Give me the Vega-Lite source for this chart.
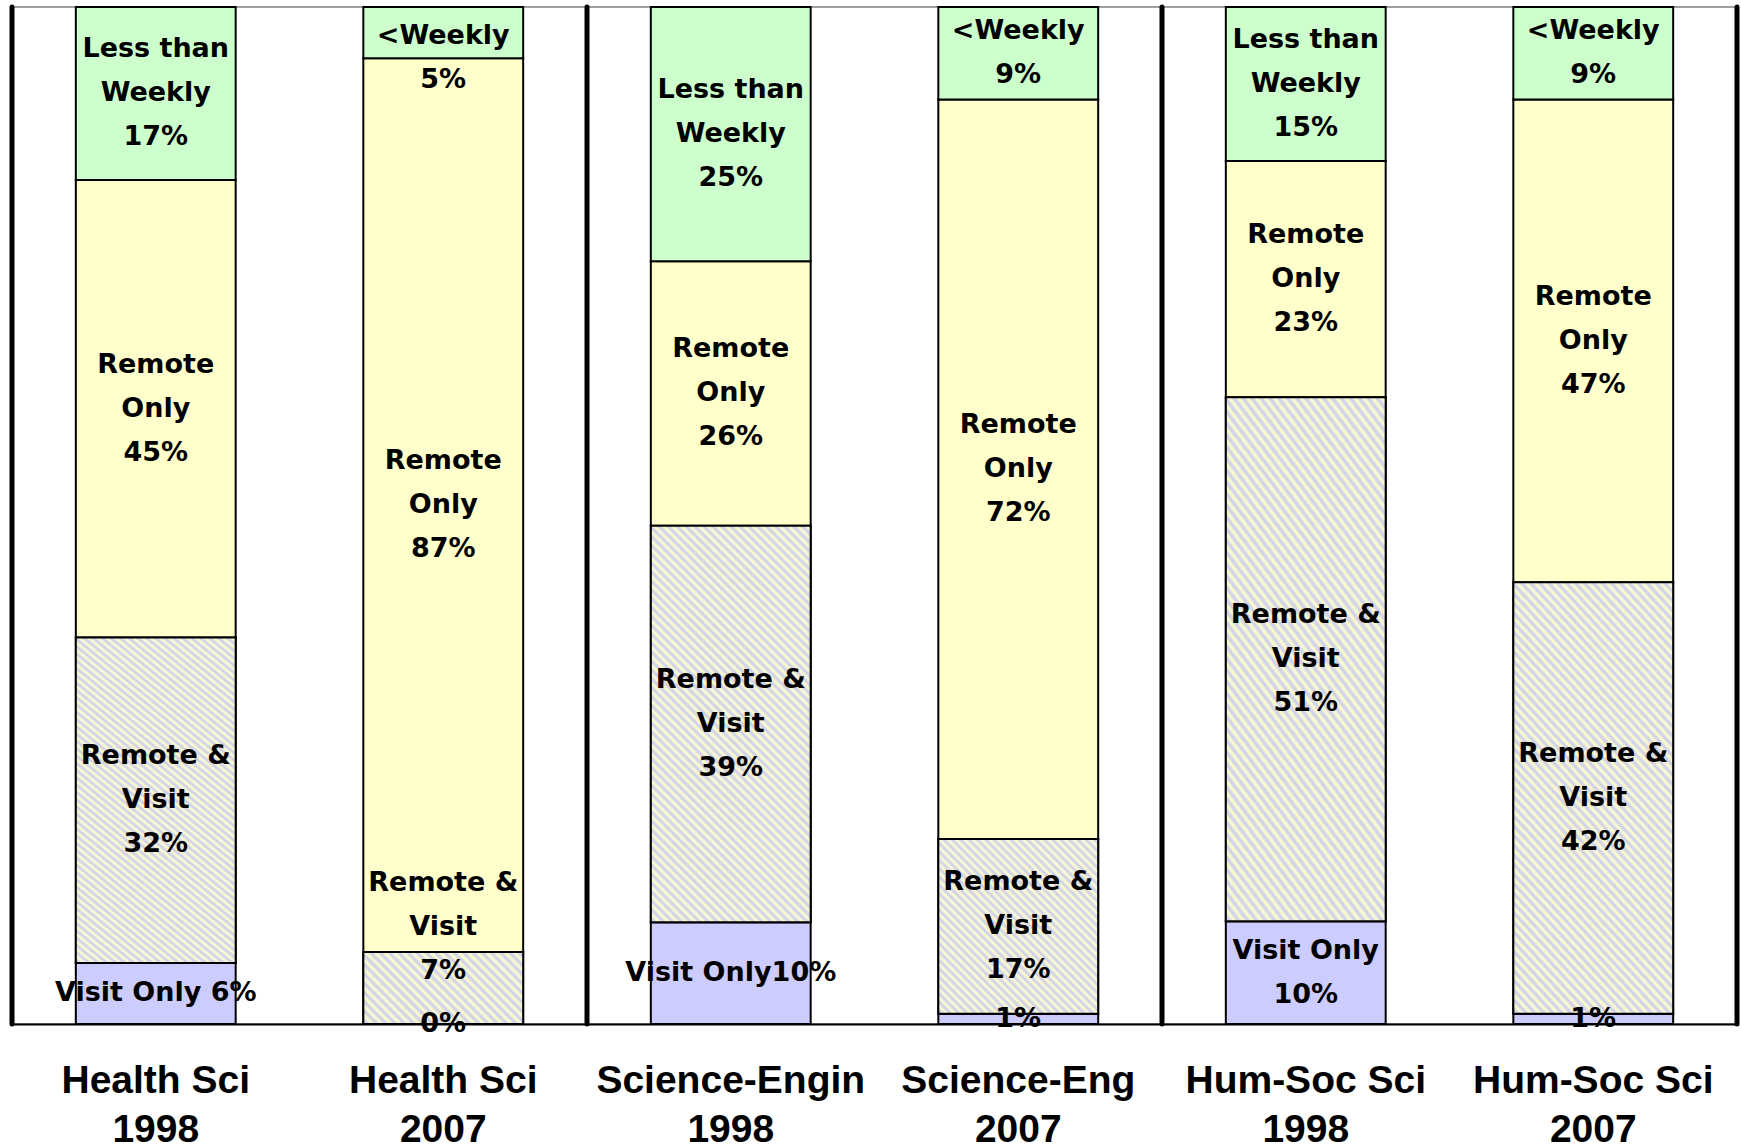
{
"$schema": "https://vega.github.io/schema/vega-lite/v6.json",
"width": 1725,
"height": 1017,
"autosize": "none",
"padding": {"left": 12, "top": 7, "right": 4, "bottom": 124},
"background": "white",
"config": {"view": {"stroke": "#808080", "strokeWidth": 1.5}},
"layer": [
{
"data": {"values": [
{"group": "Health Sci 1998", "cat": "Visit Only", "order": 1, "pct": 6, "label": ["Visit Only 6%"]},
{"group": "Health Sci 1998", "cat": "Remote & Visit", "order": 2, "pct": 32, "label": ["Remote &", "Visit", "32%"]},
{"group": "Health Sci 1998", "cat": "Remote Only", "order": 3, "pct": 45, "label": ["Remote", "Only", "45%"]},
{"group": "Health Sci 1998", "cat": "Less than Weekly", "order": 4, "pct": 17, "label": ["Less than", "Weekly", "17%"]},
{"group": "Health Sci 2007", "cat": "Visit Only", "order": 1, "pct": 0, "label": ["0%"]},
{"group": "Health Sci 2007", "cat": "Remote & Visit", "order": 2, "pct": 7, "label": ["Remote &", "Visit", "7%"]},
{"group": "Health Sci 2007", "cat": "Remote Only", "order": 3, "pct": 87, "label": ["Remote", "Only", "87%"]},
{"group": "Health Sci 2007", "cat": "Less than Weekly", "order": 4, "pct": 5, "label": ["<Weekly", "5%"]},
{"group": "Science-Engin 1998", "cat": "Visit Only", "order": 1, "pct": 10, "label": ["Visit Only10%"]},
{"group": "Science-Engin 1998", "cat": "Remote & Visit", "order": 2, "pct": 39, "label": ["Remote &", "Visit", "39%"]},
{"group": "Science-Engin 1998", "cat": "Remote Only", "order": 3, "pct": 26, "label": ["Remote", "Only", "26%"]},
{"group": "Science-Engin 1998", "cat": "Less than Weekly", "order": 4, "pct": 25, "label": ["Less than", "Weekly", "25%"]},
{"group": "Science-Eng 2007", "cat": "Visit Only", "order": 1, "pct": 1, "label": ["1%"]},
{"group": "Science-Eng 2007", "cat": "Remote & Visit", "order": 2, "pct": 17, "label": ["Remote &", "Visit", "17%"]},
{"group": "Science-Eng 2007", "cat": "Remote Only", "order": 3, "pct": 72, "label": ["Remote", "Only", "72%"]},
{"group": "Science-Eng 2007", "cat": "Less than Weekly", "order": 4, "pct": 9, "label": ["<Weekly", "9%"]},
{"group": "Hum-Soc Sci 1998", "cat": "Visit Only", "order": 1, "pct": 10, "label": ["Visit Only", "10%"]},
{"group": "Hum-Soc Sci 1998", "cat": "Remote & Visit", "order": 2, "pct": 51, "label": ["Remote &", "Visit", "51%"]},
{"group": "Hum-Soc Sci 1998", "cat": "Remote Only", "order": 3, "pct": 23, "label": ["Remote", "Only", "23%"]},
{"group": "Hum-Soc Sci 1998", "cat": "Less than Weekly", "order": 4, "pct": 15, "label": ["Less than", "Weekly", "15%"]},
{"group": "Hum-Soc Sci 2007", "cat": "Visit Only", "order": 1, "pct": 1, "label": ["1%"]},
{"group": "Hum-Soc Sci 2007", "cat": "Remote & Visit", "order": 2, "pct": 42, "label": ["Remote &", "Visit", "42%"]},
{"group": "Hum-Soc Sci 2007", "cat": "Remote Only", "order": 3, "pct": 47, "label": ["Remote", "Only", "47%"]},
{"group": "Hum-Soc Sci 2007", "cat": "Less than Weekly", "order": 4, "pct": 9, "label": ["<Weekly", "9%"]}
]},
"transform": [
{"stack": "pct", "groupby": ["group"], "sort": [{"field": "order", "order": "ascending"}], "offset": "normalize", "as": ["y0", "y1"]},
{"calculate": "(datum.y0 + datum.y1) / 2", "as": "mid"}
],
"encoding": {
"x": {"field": "group", "type": "nominal", "sort": null,
"scale": {"paddingInner": 0.444, "paddingOuter": 0.222},
"axis": {"title": null, "labelExpr": "[slice(datum.label, 0, -5), slice(datum.label, -4)]",
"labelFont": "Liberation Sans", "labelFontWeight": "bold", "labelFontSize": 39, "labelLineHeight": 49,
"labelColor": "black", "ticks": false, "labelPadding": 37, "domainColor": "black", "domainWidth": 2,
"labelAngle": 0, "labelOverlap": false, "labelLimit": 0}}
},
"layer": [
{
"mark": {"type": "bar", "stroke": "black", "strokeWidth": 2},
"encoding": {
"y": {"field": "y0", "type": "quantitative", "scale": {"domain": [0, 1], "nice": false, "zero": true}, "axis": null},
"y2": {"field": "y1"},
"fill": {"field": "cat", "type": "nominal",
"scale": {"domain": ["Visit Only", "Remote & Visit", "Remote Only", "Less than Weekly"], "range": ["#ccccff", "#ffffcc", "#ffffcc", "#ccffcc"]},
"legend": null}
}
},
{
"transform": [{"filter": "datum.cat === 'Remote & Visit'"}],
"mark": {"type": "bar", "stroke": "black", "strokeWidth": 2},
"encoding": {
"y": {"field": "y0", "type": "quantitative"},
"y2": {"field": "y1"},
"fill": {
"condition": [
{"test": "datum.group === 'Health Sci 2007'", "value": {"gradient": "linear", "x1": 0, "y1": 1, "x2": 1.2057, "y2": 0.4574, "stops": [
{"offset":0,"color":"#ffc"},{"offset":0.02,"color":"#cce"},{"offset":0.04,"color":"#ffc"},{"offset":0.06,"color":"#cce"},{"offset":0.08,"color":"#ffc"},{"offset":0.1,"color":"#cce"},{"offset":0.12,"color":"#ffc"},{"offset":0.14,"color":"#cce"},{"offset":0.16,"color":"#ffc"},{"offset":0.18,"color":"#cce"},{"offset":0.2,"color":"#ffc"},{"offset":0.22,"color":"#cce"},{"offset":0.24,"color":"#ffc"},{"offset":0.26,"color":"#cce"},{"offset":0.28,"color":"#ffc"},{"offset":0.3,"color":"#cce"},{"offset":0.32,"color":"#ffc"},{"offset":0.34,"color":"#cce"},{"offset":0.36,"color":"#ffc"},{"offset":0.38,"color":"#cce"},{"offset":0.4,"color":"#ffc"},{"offset":0.42,"color":"#cce"},{"offset":0.44,"color":"#ffc"},{"offset":0.46,"color":"#cce"},{"offset":0.48,"color":"#ffc"},{"offset":0.5,"color":"#cce"},{"offset":0.52,"color":"#ffc"},{"offset":0.54,"color":"#cce"},{"offset":0.56,"color":"#ffc"},{"offset":0.58,"color":"#cce"},{"offset":0.6,"color":"#ffc"},{"offset":0.62,"color":"#cce"},{"offset":0.64,"color":"#ffc"},{"offset":0.66,"color":"#cce"},{"offset":0.68,"color":"#ffc"},{"offset":0.7,"color":"#cce"},{"offset":0.72,"color":"#ffc"},{"offset":0.74,"color":"#cce"},{"offset":0.76,"color":"#ffc"},{"offset":0.78,"color":"#cce"},{"offset":0.8,"color":"#ffc"},{"offset":0.82,"color":"#cce"},{"offset":0.84,"color":"#ffc"},{"offset":0.86,"color":"#cce"},{"offset":0.88,"color":"#ffc"},{"offset":0.9,"color":"#cce"},{"offset":0.92,"color":"#ffc"},{"offset":0.94,"color":"#cce"},{"offset":0.96,"color":"#ffc"},{"offset":0.98,"color":"#cce"},{"offset":1,"color":"#ffc"}
]}},
{"test": "datum.group === 'Science-Eng 2007'", "value": {"gradient": "linear", "x1": 0, "y1": 1, "x2": 0.953, "y2": -0.0426, "stops": [
{"offset":0,"color":"#ffc"},{"offset":0.0125,"color":"#cce"},{"offset":0.025,"color":"#ffc"},{"offset":0.0375,"color":"#cce"},{"offset":0.05,"color":"#ffc"},{"offset":0.0625,"color":"#cce"},{"offset":0.075,"color":"#ffc"},{"offset":0.0875,"color":"#cce"},{"offset":0.1,"color":"#ffc"},{"offset":0.1125,"color":"#cce"},{"offset":0.125,"color":"#ffc"},{"offset":0.1375,"color":"#cce"},{"offset":0.15,"color":"#ffc"},{"offset":0.1625,"color":"#cce"},{"offset":0.175,"color":"#ffc"},{"offset":0.1875,"color":"#cce"},{"offset":0.2,"color":"#ffc"},{"offset":0.2125,"color":"#cce"},{"offset":0.225,"color":"#ffc"},{"offset":0.2375,"color":"#cce"},{"offset":0.25,"color":"#ffc"},{"offset":0.2625,"color":"#cce"},{"offset":0.275,"color":"#ffc"},{"offset":0.2875,"color":"#cce"},{"offset":0.3,"color":"#ffc"},{"offset":0.3125,"color":"#cce"},{"offset":0.325,"color":"#ffc"},{"offset":0.3375,"color":"#cce"},{"offset":0.35,"color":"#ffc"},{"offset":0.3625,"color":"#cce"},{"offset":0.375,"color":"#ffc"},{"offset":0.3875,"color":"#cce"},{"offset":0.4,"color":"#ffc"},{"offset":0.4125,"color":"#cce"},{"offset":0.425,"color":"#ffc"},{"offset":0.4375,"color":"#cce"},{"offset":0.45,"color":"#ffc"},{"offset":0.4625,"color":"#cce"},{"offset":0.475,"color":"#ffc"},{"offset":0.4875,"color":"#cce"},{"offset":0.5,"color":"#ffc"},{"offset":0.5125,"color":"#cce"},{"offset":0.525,"color":"#ffc"},{"offset":0.5375,"color":"#cce"},{"offset":0.55,"color":"#ffc"},{"offset":0.5625,"color":"#cce"},{"offset":0.575,"color":"#ffc"},{"offset":0.5875,"color":"#cce"},{"offset":0.6,"color":"#ffc"},{"offset":0.6125,"color":"#cce"},{"offset":0.625,"color":"#ffc"},{"offset":0.6375,"color":"#cce"},{"offset":0.65,"color":"#ffc"},{"offset":0.6625,"color":"#cce"},{"offset":0.675,"color":"#ffc"},{"offset":0.6875,"color":"#cce"},{"offset":0.7,"color":"#ffc"},{"offset":0.7125,"color":"#cce"},{"offset":0.725,"color":"#ffc"},{"offset":0.7375,"color":"#cce"},{"offset":0.75,"color":"#ffc"},{"offset":0.7625,"color":"#cce"},{"offset":0.775,"color":"#ffc"},{"offset":0.7875,"color":"#cce"},{"offset":0.8,"color":"#ffc"},{"offset":0.8125,"color":"#cce"},{"offset":0.825,"color":"#ffc"},{"offset":0.8375,"color":"#cce"},{"offset":0.85,"color":"#ffc"},{"offset":0.8625,"color":"#cce"},{"offset":0.875,"color":"#ffc"},{"offset":0.8875,"color":"#cce"},{"offset":0.9,"color":"#ffc"},{"offset":0.9125,"color":"#cce"},{"offset":0.925,"color":"#ffc"},{"offset":0.9375,"color":"#cce"},{"offset":0.95,"color":"#ffc"},{"offset":0.9625,"color":"#cce"},{"offset":0.975,"color":"#ffc"},{"offset":0.9875,"color":"#cce"},{"offset":1,"color":"#ffc"}
]}}
],
"value": {"gradient": "linear", "x1": 0, "y1": 1, "x2": 0.4828, "y2": -0.2069, "stops": [
{"offset":0,"color":"#ffc"},{"offset":0.008,"color":"#cce"},{"offset":0.016,"color":"#ffc"},{"offset":0.024,"color":"#cce"},{"offset":0.032,"color":"#ffc"},{"offset":0.04,"color":"#cce"},{"offset":0.048,"color":"#ffc"},{"offset":0.056,"color":"#cce"},{"offset":0.064,"color":"#ffc"},{"offset":0.072,"color":"#cce"},{"offset":0.08,"color":"#ffc"},{"offset":0.088,"color":"#cce"},{"offset":0.096,"color":"#ffc"},{"offset":0.104,"color":"#cce"},{"offset":0.112,"color":"#ffc"},{"offset":0.12,"color":"#cce"},{"offset":0.128,"color":"#ffc"},{"offset":0.136,"color":"#cce"},{"offset":0.144,"color":"#ffc"},{"offset":0.152,"color":"#cce"},{"offset":0.16,"color":"#ffc"},{"offset":0.168,"color":"#cce"},{"offset":0.176,"color":"#ffc"},{"offset":0.184,"color":"#cce"},{"offset":0.192,"color":"#ffc"},{"offset":0.2,"color":"#cce"},{"offset":0.208,"color":"#ffc"},{"offset":0.216,"color":"#cce"},{"offset":0.224,"color":"#ffc"},{"offset":0.232,"color":"#cce"},{"offset":0.24,"color":"#ffc"},{"offset":0.248,"color":"#cce"},{"offset":0.256,"color":"#ffc"},{"offset":0.264,"color":"#cce"},{"offset":0.272,"color":"#ffc"},{"offset":0.28,"color":"#cce"},{"offset":0.288,"color":"#ffc"},{"offset":0.296,"color":"#cce"},{"offset":0.304,"color":"#ffc"},{"offset":0.312,"color":"#cce"},{"offset":0.32,"color":"#ffc"},{"offset":0.328,"color":"#cce"},{"offset":0.336,"color":"#ffc"},{"offset":0.344,"color":"#cce"},{"offset":0.352,"color":"#ffc"},{"offset":0.36,"color":"#cce"},{"offset":0.368,"color":"#ffc"},{"offset":0.376,"color":"#cce"},{"offset":0.384,"color":"#ffc"},{"offset":0.392,"color":"#cce"},{"offset":0.4,"color":"#ffc"},{"offset":0.408,"color":"#cce"},{"offset":0.416,"color":"#ffc"},{"offset":0.424,"color":"#cce"},{"offset":0.432,"color":"#ffc"},{"offset":0.44,"color":"#cce"},{"offset":0.448,"color":"#ffc"},{"offset":0.456,"color":"#cce"},{"offset":0.464,"color":"#ffc"},{"offset":0.472,"color":"#cce"},{"offset":0.48,"color":"#ffc"},{"offset":0.488,"color":"#cce"},{"offset":0.496,"color":"#ffc"},{"offset":0.504,"color":"#cce"},{"offset":0.512,"color":"#ffc"},{"offset":0.52,"color":"#cce"},{"offset":0.528,"color":"#ffc"},{"offset":0.536,"color":"#cce"},{"offset":0.544,"color":"#ffc"},{"offset":0.552,"color":"#cce"},{"offset":0.56,"color":"#ffc"},{"offset":0.568,"color":"#cce"},{"offset":0.576,"color":"#ffc"},{"offset":0.584,"color":"#cce"},{"offset":0.592,"color":"#ffc"},{"offset":0.6,"color":"#cce"},{"offset":0.608,"color":"#ffc"},{"offset":0.616,"color":"#cce"},{"offset":0.624,"color":"#ffc"},{"offset":0.632,"color":"#cce"},{"offset":0.64,"color":"#ffc"},{"offset":0.648,"color":"#cce"},{"offset":0.656,"color":"#ffc"},{"offset":0.664,"color":"#cce"},{"offset":0.672,"color":"#ffc"},{"offset":0.68,"color":"#cce"},{"offset":0.688,"color":"#ffc"},{"offset":0.696,"color":"#cce"},{"offset":0.704,"color":"#ffc"},{"offset":0.712,"color":"#cce"},{"offset":0.72,"color":"#ffc"},{"offset":0.728,"color":"#cce"},{"offset":0.736,"color":"#ffc"},{"offset":0.744,"color":"#cce"},{"offset":0.752,"color":"#ffc"},{"offset":0.76,"color":"#cce"},{"offset":0.768,"color":"#ffc"},{"offset":0.776,"color":"#cce"},{"offset":0.784,"color":"#ffc"},{"offset":0.792,"color":"#cce"},{"offset":0.8,"color":"#ffc"},{"offset":0.808,"color":"#cce"},{"offset":0.816,"color":"#ffc"},{"offset":0.824,"color":"#cce"},{"offset":0.832,"color":"#ffc"},{"offset":0.84,"color":"#cce"},{"offset":0.848,"color":"#ffc"},{"offset":0.856,"color":"#cce"},{"offset":0.864,"color":"#ffc"},{"offset":0.872,"color":"#cce"},{"offset":0.88,"color":"#ffc"},{"offset":0.888,"color":"#cce"},{"offset":0.896,"color":"#ffc"},{"offset":0.904,"color":"#cce"},{"offset":0.912,"color":"#ffc"},{"offset":0.92,"color":"#cce"},{"offset":0.928,"color":"#ffc"},{"offset":0.936,"color":"#cce"},{"offset":0.944,"color":"#ffc"},{"offset":0.952,"color":"#cce"},{"offset":0.96,"color":"#ffc"},{"offset":0.968,"color":"#cce"},{"offset":0.976,"color":"#ffc"},{"offset":0.984,"color":"#cce"},{"offset":0.992,"color":"#ffc"},{"offset":1,"color":"#cce"}
]}
}
}
},
{
"transform": [{"filter": "length(datum.label) === 3 && !(datum.group === 'Health Sci 2007' && datum.cat === 'Remote & Visit')"}],
"mark": {"type": "text", "font": "DejaVu Sans", "fontWeight": "bold", "fontSize": 27, "lineHeight": 44, "align": "center", "baseline": "middle", "color": "black", "dy": -44},
"encoding": {
"y": {"field": "mid", "type": "quantitative"},
"text": {"field": "label", "type": "nominal"}
}
},
{
"transform": [{"filter": "length(datum.label) === 2 && !(datum.group === 'Health Sci 2007' && datum.cat === 'Less than Weekly')"}],
"mark": {"type": "text", "font": "DejaVu Sans", "fontWeight": "bold", "fontSize": 27, "lineHeight": 44, "align": "center", "baseline": "middle", "color": "black", "dy": -22},
"encoding": {
"y": {"field": "mid", "type": "quantitative"},
"text": {"field": "label", "type": "nominal"}
}
},
{
"transform": [{"filter": "length(datum.label) === 1"}],
"mark": {"type": "text", "font": "DejaVu Sans", "fontWeight": "bold", "fontSize": 27, "lineHeight": 44, "align": "center", "baseline": "middle", "color": "black"},
"encoding": {
"y": {"field": "mid", "type": "quantitative"},
"text": {"field": "label", "type": "nominal"}
}
},
{
"transform": [{"filter": "datum.group === 'Health Sci 2007' && datum.cat === 'Less than Weekly'"}],
"mark": {"type": "text", "font": "DejaVu Sans", "fontWeight": "bold", "fontSize": 27, "lineHeight": 44, "align": "center", "baseline": "middle", "color": "black", "dy": 3},
"encoding": {
"y": {"field": "mid", "type": "quantitative"},
"text": {"field": "label", "type": "nominal"}
}
},
{
"transform": [{"filter": "datum.group === 'Health Sci 2007' && datum.cat === 'Remote & Visit'"}],
"mark": {"type": "text", "font": "DejaVu Sans", "fontWeight": "bold", "fontSize": 27, "lineHeight": 44, "align": "center", "baseline": "middle", "color": "black", "dy": -105},
"encoding": {
"y": {"field": "mid", "type": "quantitative"},
"text": {"field": "label", "type": "nominal"}
}
}
]
},
{
"data": {"values": [{"pos": 0}, {"pos": 2}, {"pos": 4}, {"pos": 6}]},
"mark": {"type": "rule", "color": "black", "strokeWidth": 5, "strokeCap": "round"},
"encoding": {
"x": {"field": "pos", "type": "quantitative", "scale": {"domain": [0, 6], "nice": false, "zero": false}, "axis": null}
}
}
],
"resolve": {"scale": {"x": "independent"}}
}
